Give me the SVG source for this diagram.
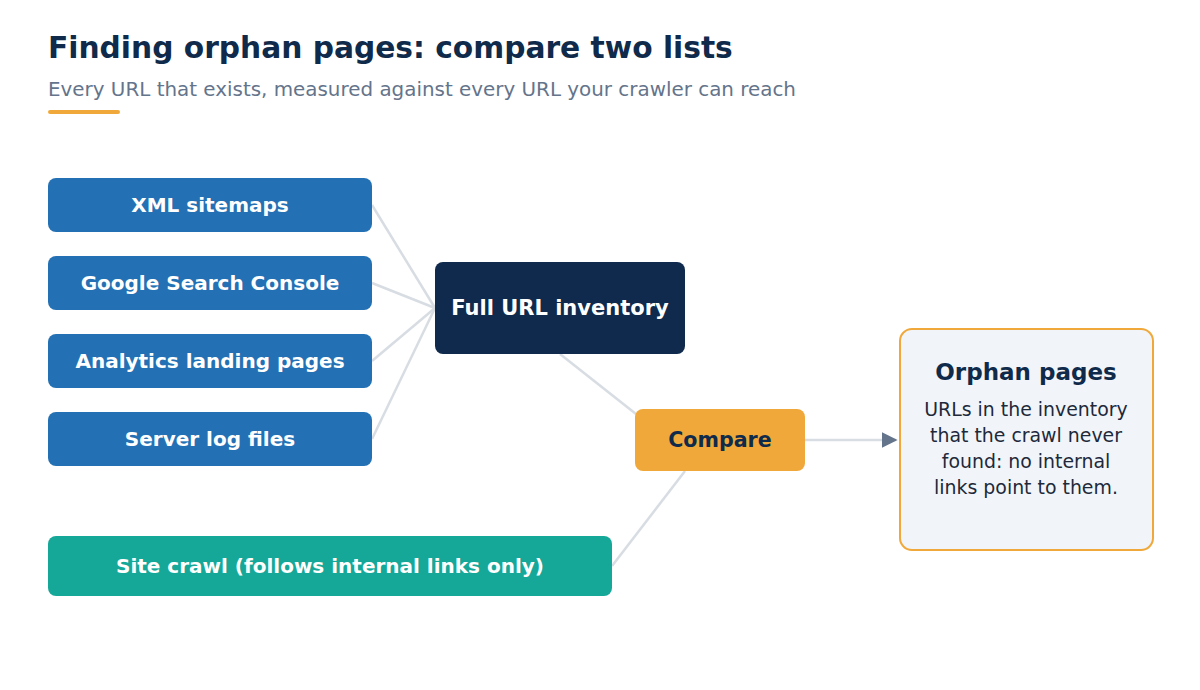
<svg xmlns="http://www.w3.org/2000/svg" width="1200" height="690" viewBox="0 0 1200 690">
<style>
text{font-family:"DejaVu Sans","Liberation Sans",sans-serif}
.src{fill:#2371b4}
.lbl{fill:#fff;font-weight:bold;font-size:20px;text-anchor:middle}
.conn{stroke:#d8dde3;stroke-width:2.5;fill:none}
</style>
<defs>
<marker id="arr" viewBox="0 0 10 10" refX="9" refY="5" markerWidth="16" markerHeight="16" markerUnits="userSpaceOnUse" orient="auto"><path d="M0,0L10,5L0,10z" fill="#64748b"/></marker>
</defs>
<rect width="1200" height="690" fill="#fff"/>
<text x="48" y="58" font-size="29.7" font-weight="bold" fill="#0f2a4a">Finding orphan pages: compare two lists</text>
<text x="48" y="96" font-size="19.9" fill="#64748b">Every URL that exists, measured against every URL your crawler can reach</text>
<rect x="48" y="110" width="72" height="4" rx="2" fill="#f0a83a"/>
<g id="connectors">
<line class="conn" x1="372" y1="205" x2="435" y2="308"/>
<line class="conn" x1="372" y1="283" x2="435" y2="308"/>
<line class="conn" x1="372" y1="361" x2="435" y2="308"/>
<line class="conn" x1="372" y1="439" x2="435" y2="308"/>
<line class="conn" x1="560" y1="354" x2="636" y2="414"/>
<line class="conn" x1="612" y1="566" x2="685" y2="471"/>
<line class="conn" x1="805" y1="440" x2="896" y2="440" marker-end="url(#arr)"/>
</g>
<g id="xml"><rect class="src" x="48" y="178" width="324" height="54" rx="8"/><text class="lbl" x="210" y="212">XML sitemaps</text></g>
<g id="gsc"><rect class="src" x="48" y="256" width="324" height="54" rx="8"/><text class="lbl" x="210" y="290">Google Search Console</text></g>
<g id="analytics"><rect class="src" x="48" y="334" width="324" height="54" rx="8"/><text class="lbl" x="210" y="368">Analytics landing pages</text></g>
<g id="logs"><rect class="src" x="48" y="412" width="324" height="54" rx="8"/><text class="lbl" x="210" y="446">Server log files</text></g>
<g id="inventory"><rect x="435" y="262" width="250" height="92" rx="8" fill="#0f2a4c"/><text class="lbl" x="560" y="315" style="font-size:21px">Full URL inventory</text></g>
<g id="compare"><rect x="635" y="409" width="170" height="62" rx="8" fill="#f0a83a"/><text class="lbl" x="720" y="447" style="font-size:20.6px;fill:#0f2a4a">Compare</text></g>
<g id="crawl"><rect x="48" y="536" width="564" height="60" rx="8" fill="#15a899"/><text class="lbl" x="330" y="573">Site crawl (follows internal links only)</text></g>
<g id="orphans"><rect x="900" y="329" width="253" height="221" rx="12" fill="#f1f5f9" stroke="#f0a83a" stroke-width="2"/>
<text x="1026" y="380" font-size="23" font-weight="bold" fill="#0f2a4a" text-anchor="middle">Orphan pages</text>
<g font-size="18.9" fill="#1e293b" text-anchor="middle">
<text x="1026" y="416">URLs in the inventory</text>
<text x="1026" y="442">that the crawl never</text>
<text x="1026" y="468">found: no internal</text>
<text x="1026" y="494">links point to them.</text>
</g></g>
</svg>
